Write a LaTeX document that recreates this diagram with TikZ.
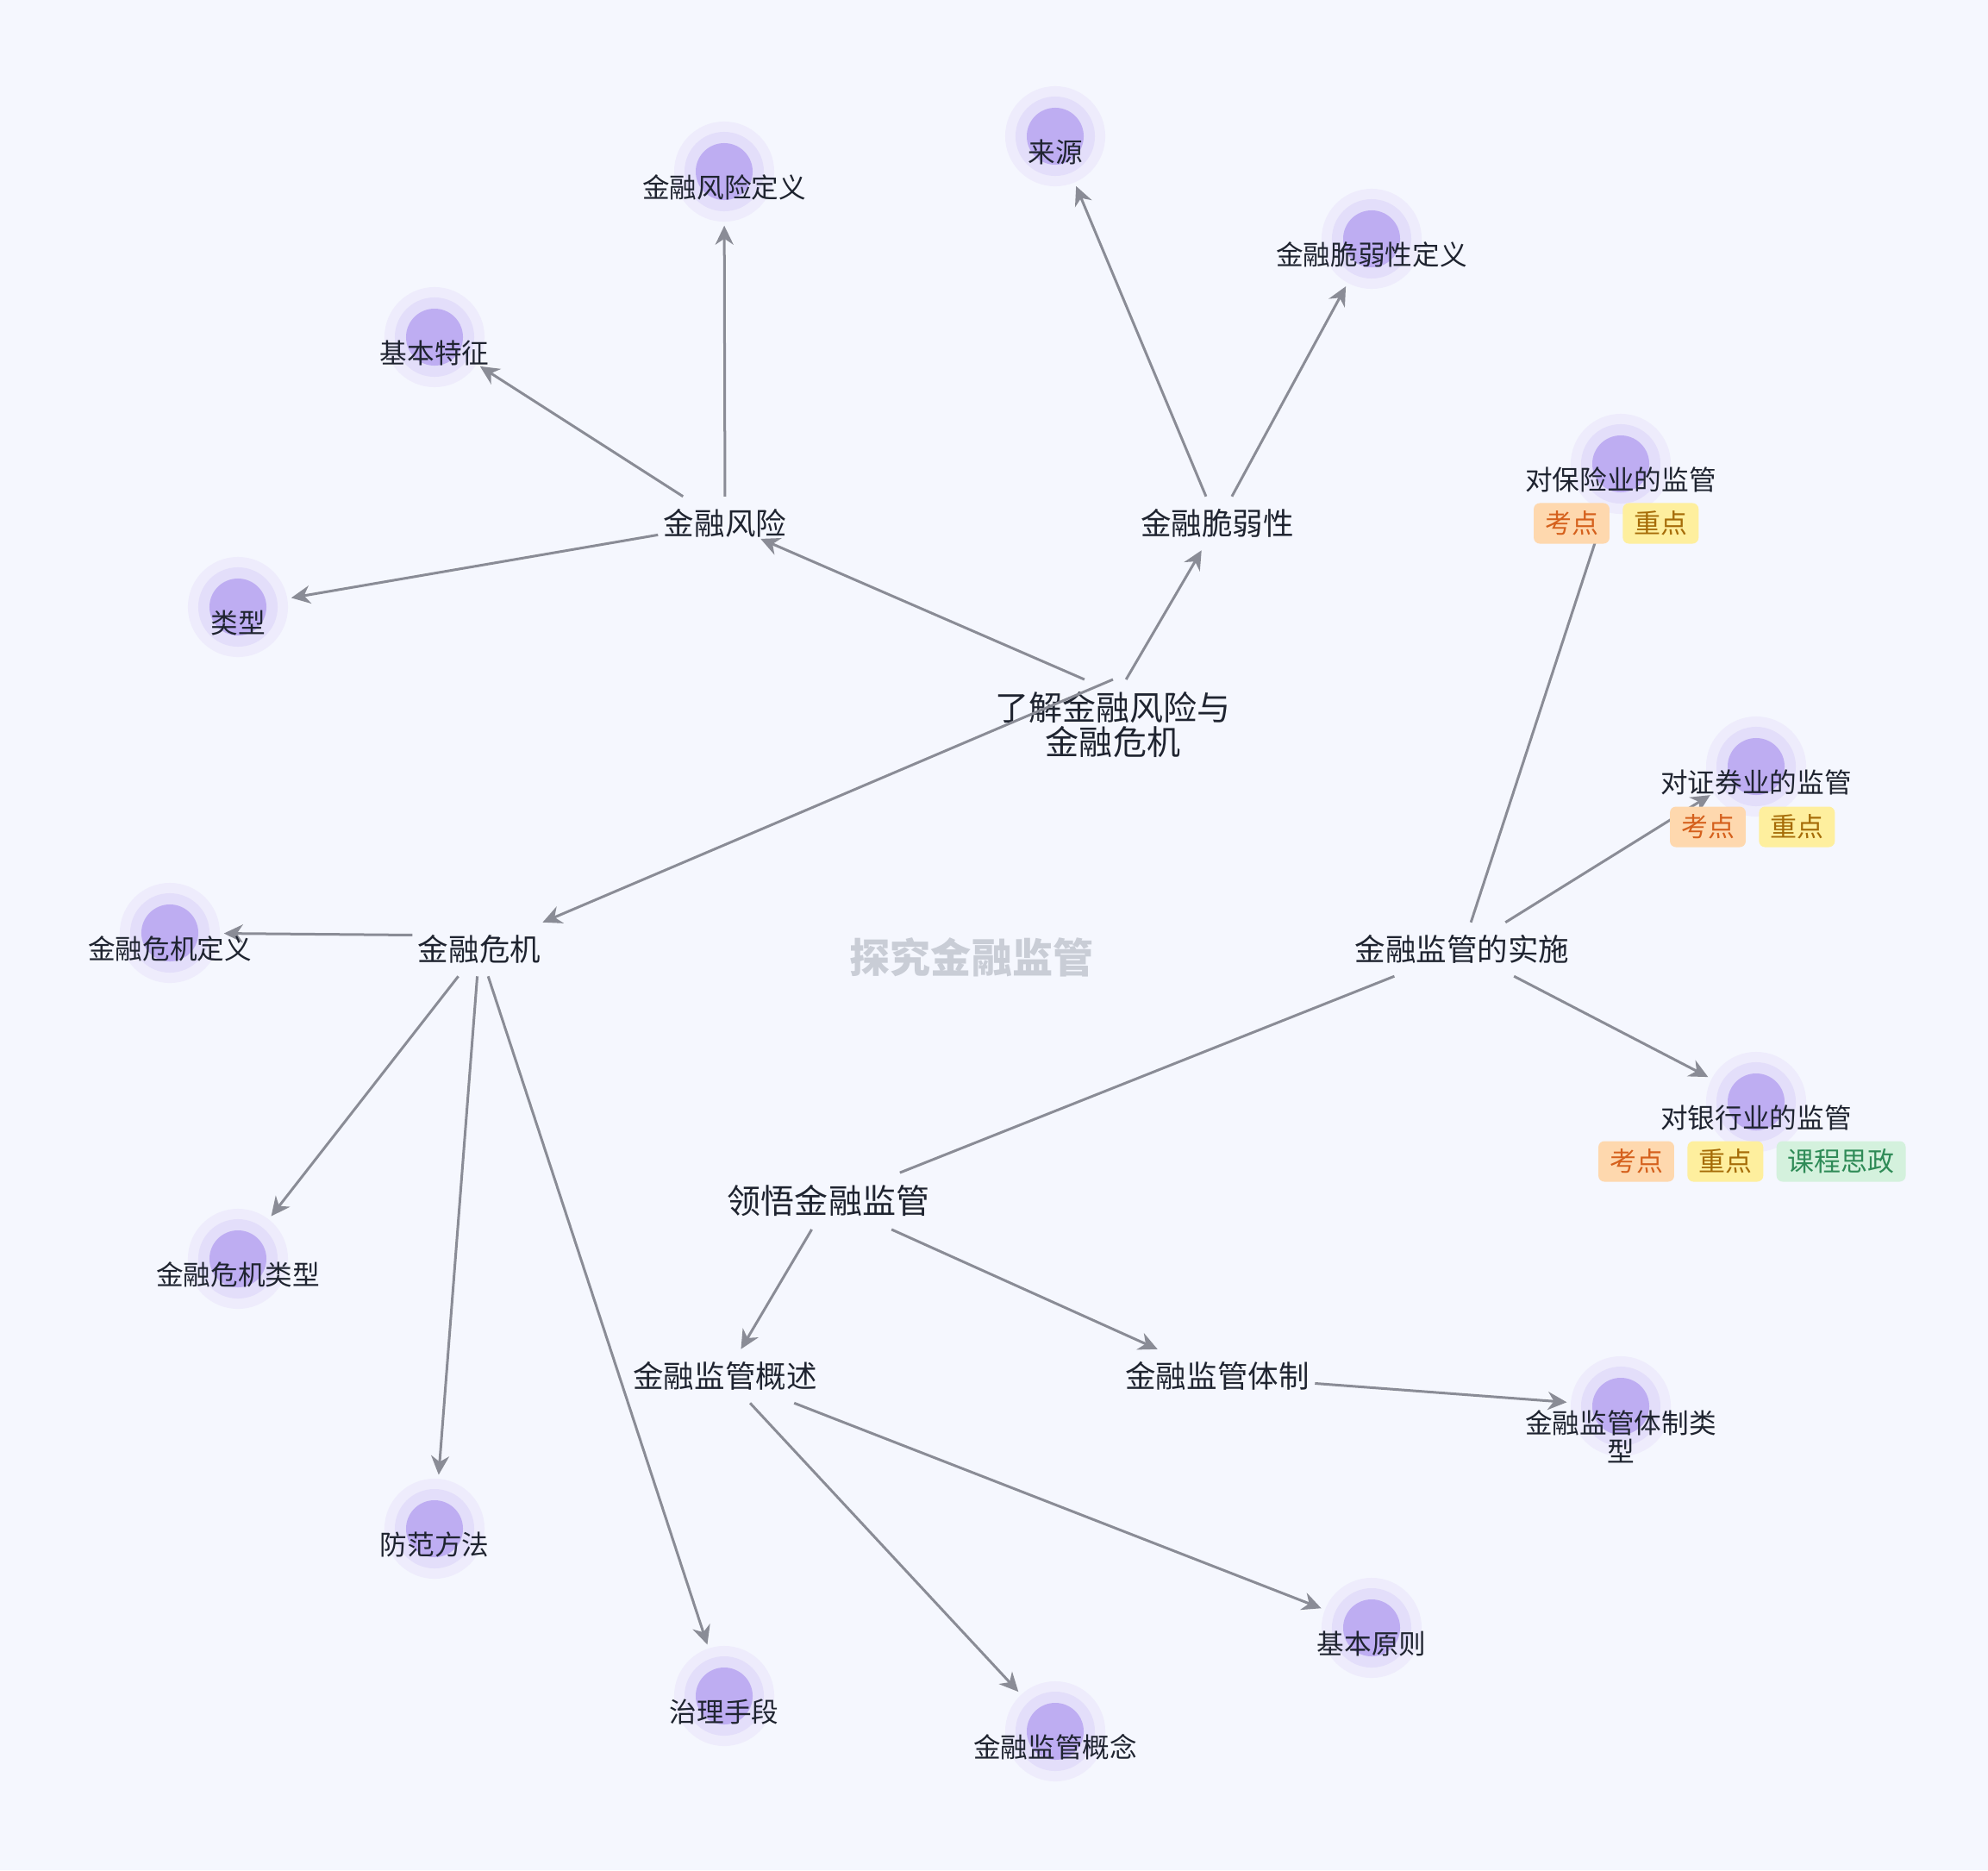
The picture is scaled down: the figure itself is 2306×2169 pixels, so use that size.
\documentclass[tikz,border=0pt]{standalone}
\usepackage{fontspec}
\setmainfont{Noto Sans CJK SC}
\usetikzlibrary{arrows.meta, positioning}
\definecolor{canvasbg}{HTML}{F5F7FE}
\definecolor{linkgray}{HTML}{8A8C96}
\definecolor{inkdark}{HTML}{1F2430}
\definecolor{haloout}{HTML}{EEECFC}
\definecolor{halomid}{HTML}{E3DEFA}
\definecolor{halodot}{HTML}{BEADF2}
\definecolor{examfill}{HTML}{FED8AE}
\definecolor{examtext}{HTML}{D5601C}
\definecolor{keyfill}{HTML}{FEEF9E}
\definecolor{keytext}{HTML}{A66C08}
\definecolor{civfill}{HTML}{D4F1DD}
\definecolor{civtext}{HTML}{2F8B57}
\definecolor{markgray}{HTML}{C9CDD6}

\begin{document}
\begin{tikzpicture}[
  x=0.01cm, y=-0.01cm,
  branch/.style={inner xsep=0.06cm, inner ysep=0.14cm, align=center, text=inkdark,
    font=\fontsize{11.1pt}{11.4pt}\selectfont},
  topic/.style={inner xsep=0.06cm, inner ysep=0.14cm, text=inkdark,
    font=\fontsize{10.1pt}{12pt}\selectfont},
  halo/.style={circle, minimum size=1.24cm, inner sep=0pt, fill=canvasbg,
    path picture={
      \fill[haloout] (path picture bounding box.center) circle (0.58cm);
      \fill[halomid] (path picture bounding box.center) circle (0.46cm);
      \fill[halodot] (path picture bounding box.center) circle (0.33cm);}},
  leaf/.style={inner sep=0pt, align=center, text=inkdark,
    font=\fontsize{9pt}{9.4pt}\selectfont},
  tag/.style={rounded corners=0.07cm, minimum width=0.87cm, minimum height=0.47cm,
    inner xsep=0.13cm, inner ysep=0pt, font=\fontsize{8.8pt}{10pt}\selectfont},
  exam/.style={tag, fill=examfill, text=examtext},
  keypt/.style={tag, fill=keyfill, text=keytext},
  civics/.style={tag, fill=civfill, text=civtext},
  arr/.style={-{Stealth[length=0.22cm, width=0.21cm, inset=0.07cm]}, linkgray, line width=0.03cm},
  link/.style={linkgray, line width=0.03cm}
]
\fill[canvasbg] (0,0) rectangle (2306,2169);
\useasboundingbox (0,0) rectangle (2306,2169);

% root and branches
\node[font=\bfseries\fontsize{13.4pt}{14pt}\selectfont, text=markgray] (root) at (1127,1110) {探究金融监管};
\node[branch] (liaojie) at (1291,841) {了解金融风险与\\金融危机};
\node[branch] (lingwu) at (961,1393) {领悟金融监管};

\node[topic] (fengxian) at (841,607) {金融风险};
\node[topic] (cuiruo) at (1412,607) {金融脆弱性};
\node[topic] (weiji) at (556,1101) {金融危机};
\node[topic] (shishi) at (1696,1101) {金融监管的实施};
\node[topic] (gaishu) at (841,1596) {金融监管概述};
\node[topic] (tizhi) at (1412,1596) {金融监管体制};

% leaves
\node[halo] (fxdingyi) at (840,199) {};
\node[halo] (tezheng) at (504,391) {};
\node[halo] (leixing) at (276,704) {};
\node[halo] (laiyuan) at (1224,158) {};
\node[halo] (cuiruodingyi) at (1591,277) {};
\node[halo] (baoxian) at (1880,538) {};
\node[halo] (zhengquan) at (2037,889) {};
\node[halo] (yinhang) at (2037,1278) {};
\node[halo] (wjdingyi) at (197,1082) {};
\node[halo] (wjleixing) at (276,1460) {};
\node[halo] (fangfan) at (504,1773) {};
\node[halo] (zhili) at (840,1967) {};
\node[halo] (gainian) at (1224,2008) {};
\node[halo] (yuanze) at (1591,1888) {};
\node[halo] (tizhileixing) at (1880,1631) {};

\draw[arr, shorten >=0.45cm] (liaojie.122) -- (fengxian.center);
\draw[arr] (liaojie.74) -- (cuiruo);
\draw[arr] (liaojie.north) -- (weiji);
\draw[arr] (fengxian) -- (fxdingyi);
\draw[arr] (fengxian) -- (tezheng);
\draw[arr] (fengxian) -- (leixing);
\draw[arr] (cuiruo) -- (laiyuan);
\draw[arr] (cuiruo) -- (cuiruodingyi);
\draw[arr] (weiji.168) -- (wjdingyi);
\draw[arr] (weiji) -- (wjleixing);
\draw[arr] (weiji) -- (fangfan);
\draw[arr] (weiji) -- (zhili);
\draw[link] (lingwu) -- (shishi);
\draw[link] (shishi) -- (baoxian);
\draw[arr] (shishi) -- (zhengquan);
\draw[arr] (shishi) -- (yinhang);
\draw[arr] (lingwu) -- (gaishu);
\draw[arr] (lingwu) -- (tizhi);
\draw[arr] (tizhi) -- (tizhileixing);
\draw[arr] (gaishu) -- (gainian);
\draw[arr] (gaishu) -- (yuanze);

\node[leaf] (fxdingyi-t) at ([yshift=-0.18cm]fxdingyi) {金融风险定义};
\node[leaf] (tezheng-t) at ([yshift=-0.18cm]tezheng) {基本特征};
\node[leaf] (leixing-t) at ([yshift=-0.18cm]leixing) {类型};
\node[leaf] (laiyuan-t) at ([yshift=-0.18cm]laiyuan) {来源};
\node[leaf] (cuiruodingyi-t) at ([yshift=-0.18cm]cuiruodingyi) {金融脆弱性定义};
\node[leaf] (baoxian-t) at ([yshift=-0.18cm]baoxian) {对保险业的监管};
\node[leaf] (zhengquan-t) at ([yshift=-0.18cm]zhengquan) {对证券业的监管};
\node[leaf] (yinhang-t) at ([yshift=-0.18cm]yinhang) {对银行业的监管};
\node[leaf] (wjdingyi-t) at ([yshift=-0.18cm]wjdingyi) {金融危机定义};
\node[leaf] (wjleixing-t) at ([yshift=-0.18cm]wjleixing) {金融危机类型};
\node[leaf] (fangfan-t) at ([yshift=-0.18cm]fangfan) {防范方法};
\node[leaf] (zhili-t) at ([yshift=-0.18cm]zhili) {治理手段};
\node[leaf] (gainian-t) at ([yshift=-0.18cm]gainian) {金融监管概念};
\node[leaf] (yuanze-t) at ([yshift=-0.18cm]yuanze) {基本原则};
\node[leaf] (tizhileixing-t) at ([yshift=-0.35cm]tizhileixing) {金融监管体制类\\型};

% tags
\node[exam] (baoxian-k) at (1823,607) {考点};
\node[keypt, right=0.14cm of baoxian-k] (baoxian-z) {重点};
\node[exam] (zhengquan-k) at (1981,959) {考点};
\node[keypt, right=0.14cm of zhengquan-k] (zhengquan-z) {重点};
\node[exam] (yinhang-k) at (1898,1347) {考点};
\node[keypt, right=0.14cm of yinhang-k] (yinhang-z) {重点};
\node[civics, right=0.14cm of yinhang-z] (yinhang-s) {课程思政};
\end{tikzpicture}
\end{document}
